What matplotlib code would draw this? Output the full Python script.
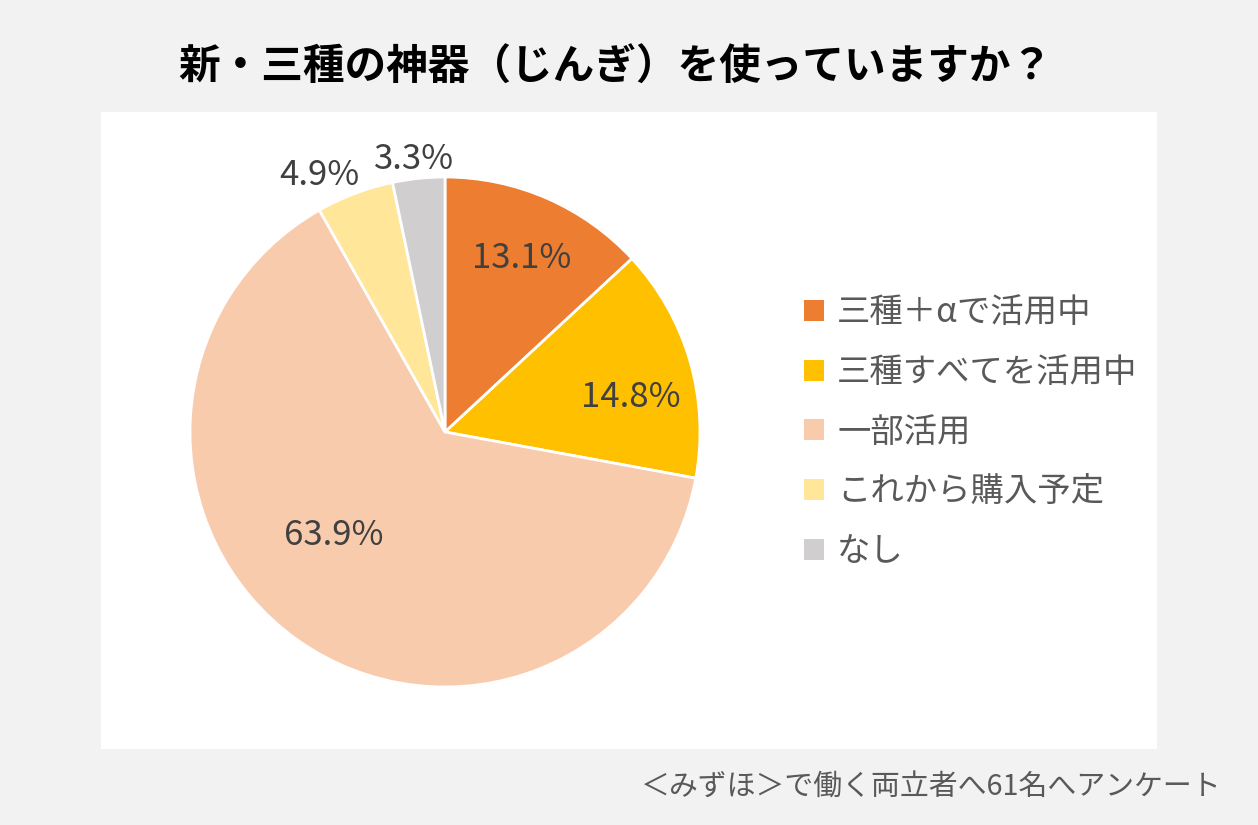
import matplotlib
matplotlib.use("Agg")
import matplotlib.pyplot as plt
from matplotlib.patches import Rectangle, Patch
import numpy as np

plt.rcParams['font.family'] = ['Noto Sans CJK JP', 'DejaVu Sans']

title = "新・三種の神器（じんぎ）を使っていますか？"
categories = ["三種＋αで活用中", "三種すべてを活用中", "一部活用", "これから購入予定", "なし"]
values = [13.1, 14.8, 63.9, 4.9, 3.3]
footer = "＜みずほ＞で働く両立者へ61名へアンケート"

colors = ["#ED7D31", "#FFC000", "#F8CBAD", "#FFE699", "#D0CECE"]
# label placement (angle offset in degrees from wedge middle, radius fraction)
label_pos = [(-0.3, 0.745), (-5.8, 0.74), (-11.5, 0.595), (5.3, 1.12), (0.6, 1.075)]

fig = plt.figure(figsize=(12.58, 8.25), dpi=100)
fig.patch.set_facecolor("#F2F2F2")

bg = fig.add_axes([0, 0, 1, 1], zorder=-1)
bg.axis("off")
bg.add_patch(Rectangle((101/1258, 1-749/825), (1157-101)/1258, (749-112)/825,
                       transform=bg.transAxes, facecolor="white", edgecolor="none"))

ax = fig.add_axes([(445-255)/1258, 1-(432+255)/825, 510/1258, 510/825], zorder=1)
ax.set_facecolor("none")
wedges, _ = ax.pie(values, colors=colors, startangle=90, counterclock=False,
                   wedgeprops=dict(edgecolor="white", linewidth=2))
ax.set_xlim(-1, 1); ax.set_ylim(-1, 1)
ax.set_aspect("equal")
ax.axis("off")

for w, v, (da, r) in zip(wedges, values, label_pos):
    mid = np.deg2rad((w.theta1 + w.theta2) / 2 + da)
    ax.text(r*np.cos(mid), r*np.sin(mid), f"{v:.1f}%", ha="center", va="center",
            fontsize=25, color="#404040")

fig.text(615/1258, 1-68/825, title, ha="center", va="center", fontsize=30, fontweight="bold", color="black")
fig.text(1222/1258, 1-788/825, footer, ha="right", va="center", fontsize=20.8, color="#595959")

handles = [Patch(facecolor=c, edgecolor="none") for c in colors]
leg = fig.legend(handles, categories, loc="center left", bbox_to_anchor=(774/1258, 1-432/825),
                 frameon=False, fontsize=24, handlelength=0.6, handleheight=0.6,
                 handletextpad=0.4, labelspacing=0.74, labelcolor="#595959")

fig.savefig("out.png", dpi=100, facecolor=fig.get_facecolor())
